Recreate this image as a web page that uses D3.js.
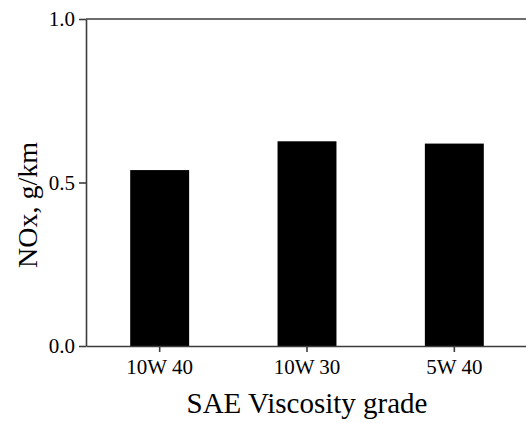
<!DOCTYPE html>
<html>
<head>
<meta charset="utf-8">
<script src="https://cdn.jsdelivr.net/npm/d3@7"></script>
<style>
  html, body { margin: 0; padding: 0; background: #fff; }
  svg { display: block; font-family: "Liberation Serif", "Times New Roman", serif; }
</style>
</head>
<body>
<div id="chart"></div>
<script>
  // values
  const grades = ["10W 40", "10W 30", "5W 40"];
  const noxValues = [0.538, 0.626, 0.619];
  const yTicks = [0.0, 0.5, 1.0];

  const width = 526;
  const height = 423;
  const margin = { top: 19, right: -2, bottom: 77, left: 86 };

  const axisColor = "#3c3c3c";

  const svg = d3
    .select("#chart")
    .append("svg")
    .attr("width", width)
    .attr("height", height);

  const x = d3
    .scaleBand()
    .domain(grades)
    .range([margin.left, width - margin.right])
    .paddingInner(0.6)
    .paddingOuter(0.3);

  const y = d3
    .scaleLinear()
    .domain([0, 1])
    .range([height - margin.bottom, margin.top]);

  // bars
  svg
    .append("g")
    .selectAll("rect")
    .data(grades)
    .enter()
    .append("rect")
    .attr("x", (d) => x(d))
    .attr("y", (d, i) => y(noxValues[i]))
    .attr("width", x.bandwidth())
    .attr("height", (d, i) => y(0) - y(noxValues[i]))
    .attr("fill", "#000");

  // top frame line
  svg
    .append("line")
    .attr("x1", margin.left)
    .attr("x2", width)
    .attr("y1", y(1))
    .attr("y2", y(1))
    .attr("stroke", axisColor)
    .attr("stroke-width", 1.6);

  // x axis
  const xAxis = svg
    .append("g")
    .attr("transform", `translate(0, ${y(0)})`)
    .call(d3.axisBottom(x).tickSize(6).tickSizeOuter(0));

  xAxis.select(".domain").attr("stroke", axisColor).attr("stroke-width", 1.6);
  xAxis.selectAll(".tick line").attr("stroke", axisColor).attr("stroke-width", 1.6);
  xAxis
    .selectAll(".tick text")
    .attr("y", 13)
    .attr("dy", "0.72em")
    .style("font-family", "Liberation Serif, serif")
    .style("font-size", "21px")
    .attr("fill", "#000");

  // y axis
  const yAxis = svg
    .append("g")
    .attr("transform", `translate(${margin.left}, 0)`)
    .call(
      d3
        .axisLeft(y)
        .tickValues(yTicks)
        .tickFormat(d3.format(".1f"))
        .tickSize(7)
        .tickSizeOuter(0)
    );

  yAxis.select(".domain").attr("stroke", axisColor).attr("stroke-width", 1.6);
  yAxis.selectAll(".tick line").attr("stroke", axisColor).attr("stroke-width", 1.6);
  yAxis
    .selectAll(".tick text")
    .attr("x", -11)
    .style("font-family", "Liberation Serif, serif")
    .style("font-size", "21px")
    .attr("fill", "#000");

  // axis titles
  svg
    .append("text")
    .attr("x", x("10W 30") + x.bandwidth() / 2)
    .attr("y", 413)
    .attr("text-anchor", "middle")
    .style("font-size", "29px")
    .text("SAE Viscosity grade");

  svg
    .append("text")
    .attr("transform", `translate(37, 205) rotate(-90)`)
    .attr("text-anchor", "middle")
    .style("font-size", "28px")
    .text("NOx, g/km");
</script>
</body>
</html>
